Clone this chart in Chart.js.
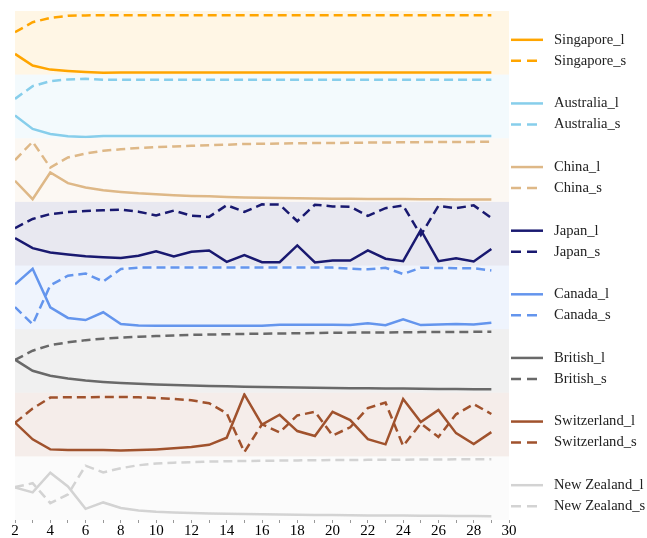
<!DOCTYPE html>
<html>
<head>
<meta charset="utf-8">
<script src="https://cdn.jsdelivr.net/npm/chart.js@4.4.1/dist/chart.umd.min.js"></script>
<style>
  html, body { margin: 0; padding: 0; background: #fff; }
  #wrap { width: 647px; height: 538px; }
</style>
</head>
<body>
<div id="wrap"><canvas id="chart"></canvas></div>
<script>
const steps = [2,3,4,5,6,7,8,9,10,11,12,13,14,15,16,17,18,19,20,21,22,23,24,25,26,27,28,29];
const countries = ['Singapore', 'Australia', 'China', 'Japan', 'Canada', 'British', 'Switzerland', 'New Zealand'];
const colors = ['#FFA500', '#87CEEB', '#DEB887', '#191970', '#6495ED', '#696969', '#A0522D', '#D3D3D3'];
const bands = ['rgba(255,165,0,0.1)', 'rgba(135,206,235,0.1)', 'rgba(222,184,135,0.1)', 'rgba(25,25,112,0.1)',
  'rgba(100,149,237,0.1)', 'rgba(105,105,105,0.1)', 'rgba(160,82,45,0.1)', 'rgba(211,211,211,0.1)'];

const singaporeL = [32.6,14.2,7.9,5.8,4.3,3.1,3.4,3.4,3.4,3.4,3.4,3.4,3.4,3.4,3.4,3.4,3.4,3.4,3.4,3.4,3.4,3.4,3.4,3.4,3.4,3.4,3.4,3.4];
const singaporeS = [66.6,82.4,89.3,92.4,93.1,93.3,93.3,93.3,93.3,93.3,93.3,93.3,93.3,93.3,93.3,93.3,93.3,93.3,93.3,93.3,93.3,93.3,93.3,93.3,93.3,93.3,93.3,93.3];
const australiaL = [35.7,14.6,6.8,3.1,2.0,3.6,3.6,3.6,3.6,3.6,3.6,3.6,3.6,3.6,3.6,3.6,3.6,3.6,3.6,3.6,3.6,3.6,3.6,3.6,3.6,3.6,3.6,3.4];
const australiaS = [61.9,81.9,89.8,92.4,93.4,92.1,92.1,92.1,92.1,92.1,92.1,92.1,92.1,92.1,92.1,92.1,92.1,92.1,92.1,92.1,92.1,92.1,92.1,92.1,92.1,92.1,92.1,92.1];
const chinaL = [33.1,4.3,46.1,29.4,22.5,18.4,15.7,13.4,11.8,10.6,9.4,8.7,7.6,6.9,6.5,6.0,5.7,5.4,5.0,4.9,4.7,4.6,4.4,4.3,4.1,3.9,3.8,3.6];
const chinaS = [65.7,94.5,54.0,69.8,76.1,80.3,82.7,84.7,86.1,87.2,88.2,89.0,89.8,91.0,91.3,91.7,92.1,92.4,92.6,92.9,93.2,93.4,93.7,93.9,94.0,94.2,94.3,94.5];
const japanL = [43.0,27.2,20.5,17.3,14.6,13.1,11.8,15.3,22.5,14.2,21.6,23.6,5.8,16.5,5.2,5.2,31.5,4.7,7.9,7.9,23.6,10.6,6.8,55.9,6.8,11.5,6.3,26.0];
const japanS = [58.7,73.2,80.8,83.9,85.8,86.9,87.7,84.6,78.7,86.3,78.3,76.4,94.8,84.3,96.1,95.7,69.6,95.6,92.9,92.4,78.0,90.1,94.2,47.7,93.7,90.1,94.5,74.8];
const canadaL = [70.4,94.8,34.2,17.6,14.2,26.5,7.9,5.8,5.5,5.5,5.5,5.5,5.5,5.5,5.5,6.8,6.8,6.8,6.8,6.3,9.1,6.0,15.4,6.3,7.1,7.9,7.1,9.9];
const canadaS = [34.6,7.6,69.0,83.9,87.4,74.8,94.5,96.7,96.7,96.7,96.7,96.7,96.7,96.7,96.7,96.7,96.7,96.7,96.7,94.8,94.0,96.5,86.6,96.5,96.1,95.7,95.7,92.1];
const britishL = [52.0,34.6,26.8,22.5,19.2,17.0,15.4,14.2,13.1,12.1,11.3,10.7,10.1,9.6,9.1,8.7,8.3,7.9,7.6,7.2,6.9,6.6,6.5,6.1,6.0,5.7,5.5,5.4];
const britishS = [51.5,66.1,74.8,79.2,82.7,85.0,86.6,88.0,89.1,90.1,90.9,91.5,92.0,92.4,92.9,93.2,93.5,93.9,94.2,94.5,94.6,94.8,95.1,95.3,95.4,95.6,95.7,95.9];
const switzerlandL = [53.1,26.8,11.0,9.9,10.2,9.9,9.4,9.9,11.0,12.6,14.6,18.1,29.4,97.3,49.9,65.4,39.8,32.0,70.1,57.0,27.1,18.9,90.1,53.9,72.8,36.5,19.4,38.1];
const switzerlandS = [52.8,75.3,92.4,92.9,92.9,93.4,93.4,92.9,91.8,90.2,88.2,83.5,67.7,6.8,50.4,37.8,64.3,70.1,32.8,45.7,75.9,84.6,16.5,51.7,30.4,66.1,82.2,66.6];
const newZealandL = [51.2,43.3,74.3,52.8,17.6,27.6,18.9,15.0,12.9,11.8,11.0,10.4,9.9,9.4,9.0,8.7,8.3,8.0,7.7,7.6,7.2,7.1,6.9,6.6,6.5,6.3,6.1,6.0];
const newZealandS = [51.7,57.8,26.5,40.2,85.4,74.8,81.4,86.1,88.7,90.1,91.0,91.8,92.3,92.8,93.1,93.4,93.7,93.9,94.2,94.3,94.5,94.6,94.8,95.0,95.1,95.3,95.4,95.6];

const longSeries = [singaporeL, australiaL, chinaL, japanL, canadaL, britishL, switzerlandL, newZealandL];
const shortSeries = [singaporeS, australiaS, chinaS, japanS, canadaS, britishS, switzerlandS, newZealandS];

const DASH = [9, 5];

// one stacked y axis per country, top to bottom
let scales = {
  x: {
    type: 'linear', min: 2, max: 30,
    grid: { drawOnChartArea: false, drawTicks: true, tickLength: 3, color: '#999' },
    border: { display: false },
    ticks: {
      stepSize: 1, autoSkip: false, maxRotation: 0, padding: 1, color: '#000',
      font: { family: 'Liberation Serif', size: 15, lineHeight: 1 },
      callback: v => (v % 2 === 0 ? v : '')
    }
  }
};
let datasets = [];
countries.forEach((name, i) => {
  const id = 'y' + i;
  scales[id] = {
    type: 'linear', position: 'left', stack: 'panels', stackWeight: 1,
    weight: countries.length - i, min: 0, max: 100, display: false
  };
  datasets.push({
    label: name + '_l', yAxisID: id, borderColor: colors[i], borderWidth: 2.5,
    data: steps.map((s, j) => ({ x: s, y: longSeries[i][j] }))
  });
  datasets.push({
    label: name + '_s', yAxisID: id, borderColor: colors[i], borderWidth: 2.5, borderDash: DASH,
    data: steps.map((s, j) => ({ x: s, y: shortSeries[i][j] }))
  });
});

const bandPlugin = {
  id: 'bands',
  beforeDatasetsDraw(chart) {
    const { ctx, chartArea } = chart;
    ctx.save();
    countries.forEach((name, i) => {
      const sc = chart.scales['y' + i];
      ctx.fillStyle = bands[i];
      ctx.fillRect(chartArea.left, sc.top, chartArea.right - chartArea.left, sc.bottom - sc.top);
    });
    ctx.restore();
  }
};

// legend grouped by panel, drawn next to each band
const legendPlugin = {
  id: 'panelLegend',
  afterDraw(chart) {
    const { ctx, chartArea } = chart;
    const x0 = chartArea.right + 2;
    ctx.save();
    ctx.font = '14.6px "Liberation Serif"';
    ctx.textBaseline = 'middle';
    ctx.lineWidth = 2.5;
    countries.forEach((name, i) => {
      const sc = chart.scales['y' + i];
      const mid = (sc.top + sc.bottom) / 2;
      const rows = [[name + '_l', [], mid - 3], [name + '_s', [10, 6], mid + 18]];
      rows.forEach(([label, dash, y]) => {
        ctx.strokeStyle = colors[i];
        ctx.setLineDash(dash);
        ctx.beginPath();
        ctx.moveTo(x0, y);
        ctx.lineTo(x0 + 32, y);
        ctx.stroke();
        ctx.fillStyle = '#222';
        ctx.fillText(label, x0 + 43, y);
      });
    });
    ctx.restore();
  }
};

new Chart(document.getElementById('chart'), {
  type: 'line',
  data: { datasets: datasets },
  options: {
    responsive: true,
    maintainAspectRatio: false,
    animation: false,
    layout: { padding: { left: 15, right: 138, top: 11, bottom: -2 } },
    elements: { point: { radius: 0 }, line: { tension: 0, fill: false } },
    plugins: { legend: { display: false }, tooltip: { enabled: false } },
    scales: scales
  },
  plugins: [bandPlugin, legendPlugin]
});
</script>
</body>
</html>
